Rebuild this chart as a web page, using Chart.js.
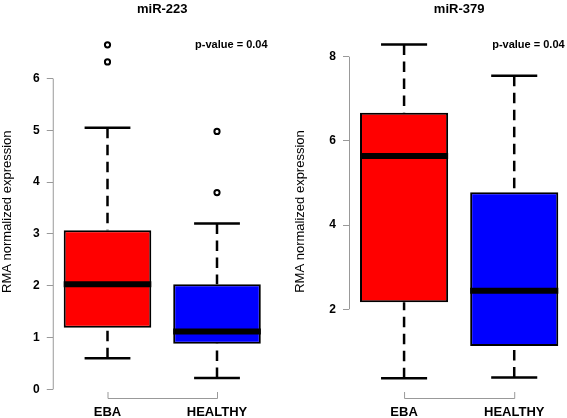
<!DOCTYPE html>
<html>
<head>
<meta charset="utf-8">
<script src="https://cdn.jsdelivr.net/npm/chart.js@4.4.0/dist/chart.umd.min.js"></script>
<style>
  html, body { margin: 0; padding: 0; background: #fff; overflow: hidden; }
  #wrap { position: relative; width: 567px; height: 418px; overflow: hidden; }
  #c1 { position: absolute; left: 0; top: 0; }
  #c2 { position: absolute; left: 285px; top: 0; }
</style>
</head>
<body>
<div id="wrap">
  <canvas id="c1" width="285" height="418"></canvas>
  <canvas id="c2" width="290" height="418"></canvas>
</div>
<script>
// categories and box colours
var categories = ['EBA', 'HEALTHY'];
var boxColors = ['#ff0000', '#0000ff'];

// miR-223
var low223 = [0.60, 0.22];
var q1_223 = [1.19, 0.88];
var med223 = [2.03, 1.12];
var q3_223 = [3.07, 2.03];
var high223 = [5.05, 3.20];
var out223 = [[6.65, 6.32], [4.98, 3.80]];
var ticks223 = [0, 1, 2, 3, 4, 5, 6];

// miR-379
var low379 = [0.36, 0.38];
var q1_379 = [2.17, 1.13];
var med379 = [5.64, 2.44];
var q3_379 = [6.67, 4.78];
var high379 = [8.29, 7.55];
var out379 = [[], []];
var ticks379 = [2, 4, 6, 8];

Chart.defaults.font.family = '"Liberation Sans", Arial, sans-serif';
Chart.defaults.color = '#000';

var axisGray = '#999';

// draws medians, whiskers, R-style axis lines, title and p-value text
var boxPlugin = {
    id: 'boxPlugin',
    afterDatasetsDraw: function (chart) {
        var cfg = chart.options.plugins.boxPlugin;
        var ctx = chart.ctx;
        var xs = chart.scales.x;
        var ys = chart.scales.y;
        var area = chart.chartArea;
        var meta = chart.getDatasetMeta(0);

        ctx.save();
        for (var i = 0; i < categories.length; i++) {
            var bar = meta.data[i];
            var cx = xs.getPixelForValue(i);
            var half = bar.width / 2;
            var capHalf = half / 2 + 1;

            // whiskers (dashed, starting at the cap)
            ctx.strokeStyle = '#000';
            ctx.lineWidth = 2.5;
            ctx.setLineDash([10.5, 6.5]);
            ctx.beginPath();
            ctx.moveTo(cx, ys.getPixelForValue(cfg.high[i]));
            ctx.lineTo(cx, ys.getPixelForValue(cfg.q3[i]));
            ctx.moveTo(cx, ys.getPixelForValue(cfg.low[i]));
            ctx.lineTo(cx, ys.getPixelForValue(cfg.q1[i]));
            ctx.stroke();
            ctx.setLineDash([]);

            // caps
            ctx.beginPath();
            ctx.moveTo(cx - capHalf, ys.getPixelForValue(cfg.high[i]));
            ctx.lineTo(cx + capHalf, ys.getPixelForValue(cfg.high[i]));
            ctx.moveTo(cx - capHalf, ys.getPixelForValue(cfg.low[i]));
            ctx.lineTo(cx + capHalf, ys.getPixelForValue(cfg.low[i]));
            ctx.stroke();

            // median
            ctx.lineWidth = 6;
            ctx.beginPath();
            ctx.moveTo(cx - half, ys.getPixelForValue(cfg.median[i]));
            ctx.lineTo(cx + half, ys.getPixelForValue(cfg.median[i]));
            ctx.stroke();
        }

        // y axis line only between first and last tick
        ctx.strokeStyle = axisGray;
        ctx.lineWidth = 1;
        ctx.beginPath();
        ctx.moveTo(area.left + 0.5, ys.getPixelForValue(cfg.yTicks[0]));
        ctx.lineTo(area.left + 0.5, ys.getPixelForValue(cfg.yTicks[cfg.yTicks.length - 1]));
        ctx.stroke();

        // x axis bracket
        var x0 = xs.getPixelForValue(0);
        var x1 = xs.getPixelForValue(categories.length - 1);
        var yb = area.bottom + 6.5;
        ctx.beginPath();
        ctx.moveTo(x0 + 0.5, area.bottom);
        ctx.lineTo(x0 + 0.5, yb);
        ctx.lineTo(x1 + 0.5, yb);
        ctx.lineTo(x1 + 0.5, area.bottom);
        ctx.stroke();

        // title
        ctx.fillStyle = '#000';
        ctx.font = 'bold 13px "Liberation Sans", Arial, sans-serif';
        ctx.textAlign = 'center';
        ctx.textBaseline = 'middle';
        ctx.fillText(cfg.title, (area.left + area.right) / 2, 9);

        // p-value, left aligned at x = 1.8 and y = top value
        var maxVal = Math.max.apply(null, cfg.high.concat(cfg.outliers[0], cfg.outliers[1]));
        ctx.font = 'bold 11px "Liberation Sans", Arial, sans-serif';
        ctx.textAlign = 'left';
        ctx.fillText(cfg.pText, x0 + 0.8 * (x1 - x0), ys.getPixelForValue(maxVal));
        ctx.restore();
    }
};

function makeBoxplot(canvasId, title, d, yTicks, yMin, yMax, layout) {
    var outlierPoints = [];
    for (var i = 0; i < categories.length; i++) {
        for (var j = 0; j < d.outliers[i].length; j++) {
            outlierPoints.push({ x: categories[i], y: d.outliers[i][j] });
        }
    }

    return new Chart(document.getElementById(canvasId), {
        type: 'bar',
        data: {
            labels: categories,
            datasets: [{
                type: 'bar',
                data: categories.map(function (c, i) { return [d.q1[i], d.q3[i]]; }),
                backgroundColor: boxColors,
                borderColor: '#000',
                borderWidth: 2,
                borderSkipped: false,
                barPercentage: 0.8,
                categoryPercentage: 1
            }, {
                type: 'scatter',
                data: outlierPoints,
                pointStyle: 'circle',
                pointRadius: 2.6,
                borderColor: '#000',
                borderWidth: 2,
                backgroundColor: 'rgba(0,0,0,0)'
            }]
        },
        options: {
            responsive: false,
            animation: false,
            layout: { padding: { top: layout.top, right: layout.right, left: 0, bottom: 0 } },
            plugins: {
                legend: { display: false },
                tooltip: { enabled: false },
                boxPlugin: {
                    title: title,
                    pText: 'p-value = 0.04',
                    low: d.low, q1: d.q1, median: d.median, q3: d.q3, high: d.high,
                    outliers: d.outliers,
                    yTicks: yTicks
                }
            },
            scales: {
                x: {
                    type: 'category',
                    offset: true,
                    grid: { display: false, drawTicks: false },
                    border: { display: false },
                    ticks: { font: { size: 13, weight: 'bold' }, padding: 13 },
                    afterFit: function (s) { s.height = 26; }
                },
                y: {
                    min: yMin,
                    max: yMax,
                    afterBuildTicks: function (s) {
                        s.ticks = yTicks.map(function (v) { return { value: v }; });
                    },
                    grid: { drawOnChartArea: false, drawTicks: true, tickLength: 6, color: axisGray },
                    border: { display: false },
                    ticks: { font: { size: 12, weight: 'bold' }, padding: 7 },
                    title: {
                        display: true,
                        text: 'RMA normalized expression',
                        font: { size: 13 },
                        padding: { top: layout.titlePad, bottom: 0 }
                    },
                    afterFit: function (s) { s.width = layout.left; }
                }
            }
        },
        plugins: [boxPlugin]
    });
}

makeBoxplot('c1', 'miR-223',
    { low: low223, q1: q1_223, median: med223, q3: q3_223, high: high223, outliers: out223 },
    ticks223, -0.05, 6.91,
    { top: 31.4, right: 13.25, left: 52.75, titlePad: 0 });

makeBoxplot('c2', 'miR-379',
    { low: low379, q1: q1_379, median: med379, q3: q3_379, high: high379, outliers: out379 },
    ticks379, 0.036, 8.61,
    { top: 31, right: 5.7, left: 64, titlePad: 7.2 });
</script>
</body>
</html>
